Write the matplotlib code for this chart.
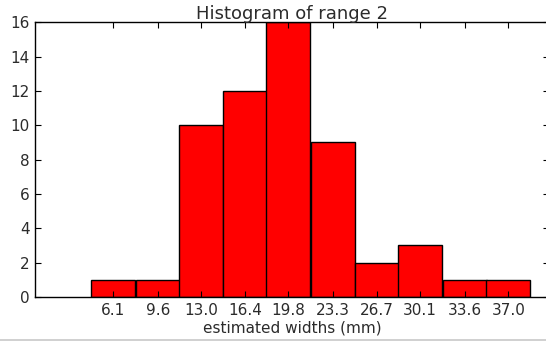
import matplotlib
matplotlib.use("Agg")
import matplotlib.pyplot as plt
from matplotlib.lines import Line2D

# bin centres (as printed on the axis) and counts
bin_labels = ["6.1", "9.6", "13.0", "16.4", "19.8", "23.3", "26.7", "30.1", "33.6", "37.0"]
bin_centres = [6.1, 9.6, 13.0, 16.4, 19.8, 23.3, 26.7, 30.1, 33.6, 37.0]
counts = [1, 1, 10, 12, 16, 9, 2, 3, 1, 1]

szer = (bin_centres[-1] - bin_centres[0]) / (len(bin_centres) - 1)
txt = "#2b2b2b"

fig = plt.figure(figsize=(5.46, 3.41), dpi=100)
ax = fig.add_axes([0.064, 0.129, 0.941, 0.806])

ax.bar(bin_centres, counts, width=szer, color="#ff0000", edgecolor="black", linewidth=1.0)

ax.set_xlim(0, 40.15)
ax.set_ylim(0, 16)
ax.set_xticks(bin_centres)
ax.set_xticklabels(bin_labels)
ax.set_yticks(range(0, 17, 2))
ax.tick_params(direction="in", top=True, right=True, length=4, width=0.8,
               labelsize=11, labelcolor=txt, pad=4)
for s in ax.spines.values():
    s.set_linewidth(1.0)

ax.set_title("Histogram of range 2", fontsize=13, color=txt, pad=2)
ax.set_xlabel("estimated widths (mm)", fontsize=11, color=txt, labelpad=2)

# thin grey frame line at the bottom of the screenshot
fig.add_artist(Line2D([0, 1], [0.004, 0.004], transform=fig.transFigure,
                      color="#c8c8c8", linewidth=1.2))

fig.savefig("out.png", dpi=100)
